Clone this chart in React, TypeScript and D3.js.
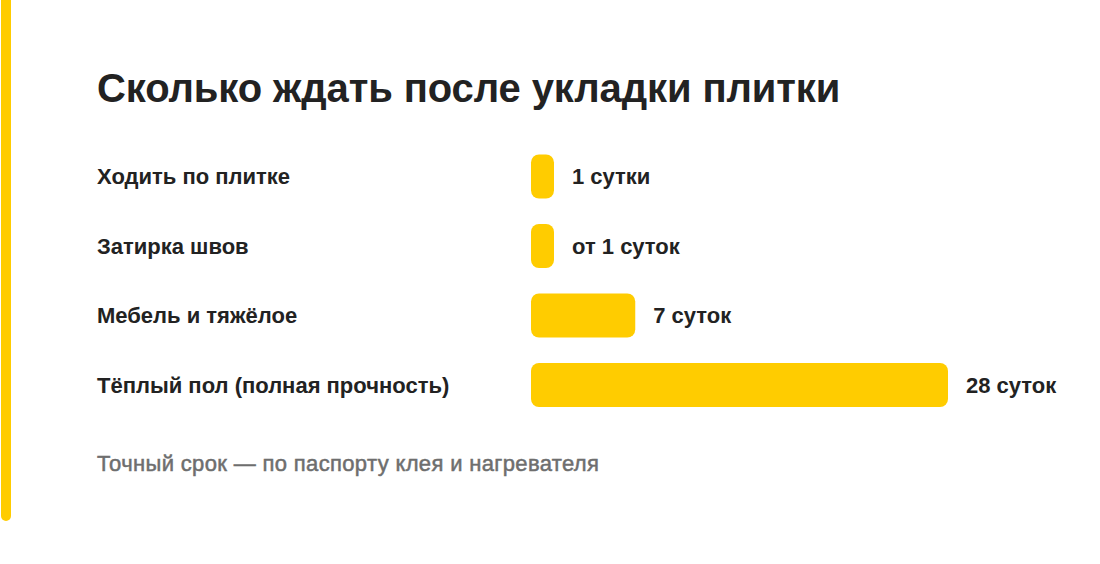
import React from "react";
import * as d3 from "d3";

const categories = ["Ходить по плитке", "Затирка швов", "Мебель и тяжёлое", "Тёплый пол (полная прочность)"];
const values = [1, 1, 7, 28];
const valueLabels = ["1 сутки", "от 1 суток", "7 суток", "28 суток"];
const title = "Сколько ждать после укладки плитки";
const note = "Точный срок — по паспорту клея и нагревателя";

const W = 1100;
const H = 564;
const FONT = "'Liberation Sans', Arial, Helvetica, sans-serif";
const YELLOW = "#FFCC00";

export default function App() {
  const x = d3.scaleLinear().domain([0, 28]).range([531, 948]);
  const y = d3.scalePoint<string>().domain(categories).range([176.5, 385]);
  const barH = 44;
  const minW = 23;

  return (
    <svg width={W} height={H} style={{ position: "absolute", left: 0, top: 0, background: "#fff" }}>
      <rect x={1} y={-6} width={10} height={527} rx={5} fill={YELLOW} />
      <text x={97} y={102} fontFamily={FONT} fontWeight={700} fontSize={40} fill="#222" letterSpacing={-0.1}>
        {title}
      </text>
      {categories.map((c, i) => {
        const cy = y(c) as number;
        const w = Math.max(x(values[i]) - x(0), minW);
        return (
          <g key={c}>
            <text x={97} y={cy} dy="0.36em" fontFamily={FONT} fontWeight={700} fontSize={22} fill="#222">
              {c}
            </text>
            <rect x={x(0)} y={cy - barH / 2} width={w} height={barH} rx={8} fill={YELLOW} />
            <text x={x(0) + w + 18} y={cy} dy="0.36em" fontFamily={FONT} fontWeight={700} fontSize={22} fill="#222">
              {valueLabels[i]}
            </text>
          </g>
        );
      })}
      <text x={97} y={471} fontFamily={FONT} fontWeight={400} fontSize={22} fill="#6e6e6e"
        stroke="#6e6e6e" strokeWidth={0.5} letterSpacing={0.35}>
        {note}
      </text>
    </svg>
  );
}
